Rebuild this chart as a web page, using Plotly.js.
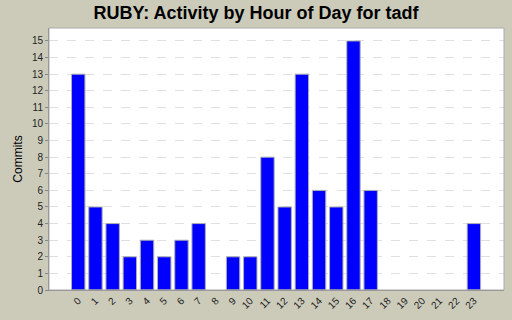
<!DOCTYPE html>
<html><head><meta charset="utf-8">
<script src="https://cdn.plot.ly/plotly-3.0.1.min.js"></script>
<style>html,body{margin:0;padding:0;background:#cccbba;}</style>
</head><body>
<div id="chart" style="width:512px;height:320px;"></div>
<script>
const hours = [0,1,2,3,4,5,6,7,8,9,10,11,12,13,14,15,16,17,18,19,20,21,22,23];
const hourLabels = hours.map(String);
const commits = [13,5,4,2,3,2,3,4,0,2,2,8,5,13,6,5,15,6,0,0,0,0,0,4];
const yTicks = [0,1,2,3,4,5,6,7,8,9,10,11,12,13,14,15];

Plotly.newPlot('chart', [{
  type: 'bar',
  x: hours,
  y: commits,
  width: 0.78,
  marker: {color: '#0000ff', line: {color: '#b0b0b0', width: commits.map(v => v > 0 ? 1 : 0)}},
  hoverinfo: 'none'
}], {
  width: 512, height: 320,
  paper_bgcolor: '#cccbba',
  plot_bgcolor: '#ffffff',
  margin: {l: 49, r: 8, t: 28, b: 30},
  title: {text: '<b>RUBY: Activity by Hour of Day for tadf</b>', font: {family: 'Liberation Sans, Arial', size: 18, color: '#000'}, x: 0.5, xanchor: 'center', y: 0.98, yanchor: 'top'},
  font: {family: 'Liberation Sans, Arial', size: 10, color: '#222'},
  xaxis: {
    range: [-1.7, 24.75], tickvals: hours, ticktext: hourLabels, tickangle: -45,
    showgrid: false, zeroline: false, showline: true, linecolor: '#888', linewidth: 1,
    ticks: '', tickfont: {size: 10, color: '#222'}, fixedrange: true
  },
  yaxis: {
    range: [0, 15.78], tickvals: yTicks, showgrid: true, gridcolor: '#e0e0e0', griddash: 'dash', gridwidth: 1,
    zeroline: false, showline: true, linecolor: '#888', linewidth: 1, ticks: 'outside', ticklen: 3, tickcolor: '#888',
    tickfont: {size: 10, color: '#222'},
    title: {text: 'Commits', font: {size: 12, color: '#000'}, standoff: 6}
  },
  shapes: [{type: 'rect', xref: 'paper', yref: 'paper', x0: 0, x1: 1, y0: 0, y1: 1, line: {color: '#aaaaaa', width: 1}}],
  showlegend: false
}, {displayModeBar: false, staticPlot: true});
</script>
</body></html>
